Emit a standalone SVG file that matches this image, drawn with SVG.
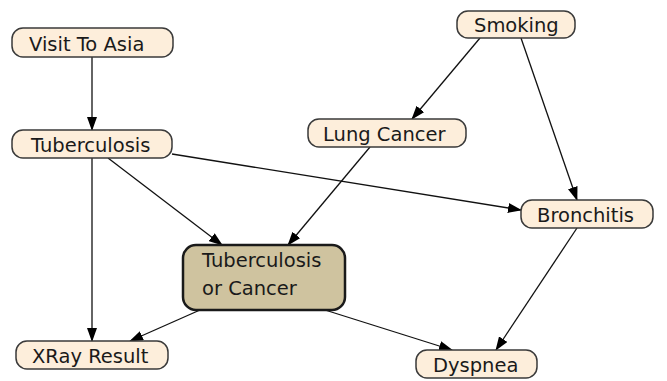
<svg xmlns="http://www.w3.org/2000/svg" width="667" height="381" viewBox="0 0 667 381">
<style>
.n rect{fill:#fdeedb;stroke:#3a3a3a;stroke-width:1.5}
.n.m rect{fill:#cfc39f;stroke:#1a1a1a;stroke-width:2.5}
.n text{font-family:"DejaVu Sans",Verdana,sans-serif;font-size:19.5px;fill:#1a1a1a}
.e line{stroke:#111;stroke-width:1.3;marker-end:url(#a)}
</style>
<defs>
<marker id="a" viewBox="0 0 14 10" refX="13" refY="5" markerWidth="14" markerHeight="10" markerUnits="userSpaceOnUse" orient="auto">
<path d="M0,0 L14,5 L0,10 z" fill="#000"/>
</marker>
</defs>
<rect width="667" height="381" fill="#fff"/>
<g class="e">
<line x1="92" y1="57" x2="92" y2="130"/>
<line x1="92" y1="158" x2="92" y2="341"/>
<line x1="108" y1="158" x2="222" y2="245"/>
<line x1="172" y1="154" x2="521" y2="210"/>
<line x1="480" y1="38" x2="412" y2="119"/>
<line x1="521" y1="38" x2="577" y2="200"/>
<line x1="370" y1="147" x2="288" y2="245"/>
<line x1="200" y1="310" x2="130" y2="341"/>
<line x1="325" y1="310" x2="452" y2="350"/>
<line x1="577" y1="228" x2="496" y2="350"/>
</g>
<g id="visit" class="n"><rect x="12" y="28" width="161" height="29" rx="11"/><text x="29" y="51">Visit To Asia</text></g>
<g id="tub" class="n"><rect x="12" y="130" width="160" height="28" rx="11"/><text x="31" y="152">Tuberculosis</text></g>
<g id="smoking" class="n"><rect x="457" y="11" width="118" height="27" rx="11"/><text x="474" y="32">Smoking</text></g>
<g id="lung" class="n"><rect x="308" y="119" width="158" height="28" rx="11"/><text x="323" y="141">Lung Cancer</text></g>
<g id="bron" class="n"><rect x="521" y="200" width="132" height="28" rx="11"/><text x="537" y="222">Bronchitis</text></g>
<g id="torc" class="n m"><rect x="183" y="245" width="162" height="65" rx="13"/><text x="202" y="267">Tuberculosis</text><text x="202" y="295">or Cancer</text></g>
<g id="xray" class="n"><rect x="16" y="341" width="152" height="28" rx="11"/><text x="32" y="363">XRay Result</text></g>
<g id="dysp" class="n"><rect x="416" y="350" width="121" height="28" rx="11"/><text x="433" y="372">Dyspnea</text></g>
</svg>
